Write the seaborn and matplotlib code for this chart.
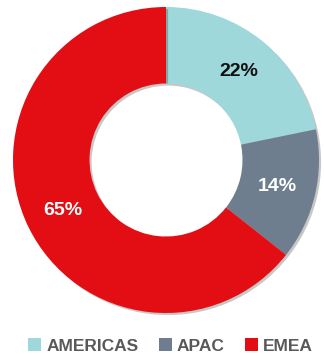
import matplotlib
matplotlib.use("Agg")
import matplotlib.pyplot as plt
import matplotlib.patheffects as pe
from matplotlib.patches import Patch
import seaborn as sns

regions = ["AMERICAS", "APAC", "EMEA"]
shares = [22, 14, 65]
colors = ["#9ED8DA", "#6E7E8E", "#E20E14"]
label_colors = ["#111111", "#FFFFFF", "#FFFFFF"]

sns.set_theme(style="white")
plt.rcParams["font.family"] = ["Liberation Sans", "DejaVu Sans"]

W, H = 324, 358
fig = plt.figure(figsize=(W / 100, H / 100), dpi=100)
fig.patch.set_facecolor("white")

cx, cy, R = 166, 160, 153
ax = fig.add_axes([(cx - R) / W, (H - cy - R) / H, 2 * R / W, 2 * R / H])

wedges, texts, autotexts = ax.pie(
    shares,
    colors=colors,
    startangle=90,
    counterclock=False,
    radius=1.0,
    wedgeprops=dict(width=0.5, edgecolor="none"),
    autopct=lambda p: "",
    pctdistance=0.75,
)
for w in wedges:
    w.set_path_effects([
        pe.SimplePatchShadow(offset=(1.5, -1.5), shadow_rgbFace="#000000", alpha=0.22),
        pe.Normal(),
    ])
for t, v, c in zip(autotexts, shares, label_colors):
    t.set_text(f"{v}%")
    t.set_color(c)
    t.set_fontsize(14)
    t.set_fontweight("bold")

ax.set_xlim(-1, 1)
ax.set_ylim(-1, 1)
ax.set_aspect("equal")
ax.axis("off")

handles = [Patch(facecolor=c, edgecolor="none") for c in colors]
leg = fig.legend(
    handles, regions,
    loc="center", bbox_to_anchor=(170.5 / W, 12 / H),
    ncol=3, frameon=False,
    handlelength=0.75, handleheight=0.75, handletextpad=0.3,
    columnspacing=1.15, borderpad=0,
    prop=dict(weight="bold", size=12.5),
)
for txt in leg.get_texts():
    txt.set_color("#595959")

fig.savefig("out.png", dpi=100, facecolor="white")
